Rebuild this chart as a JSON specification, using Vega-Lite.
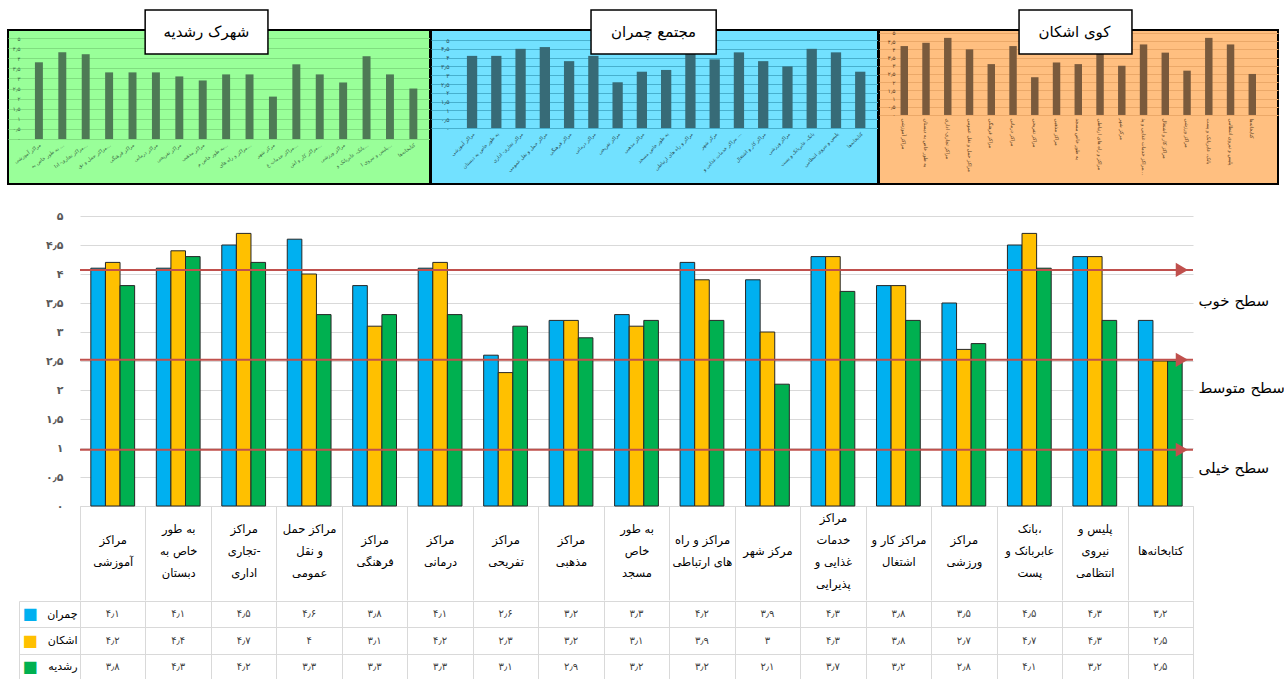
{
  "$schema": "https://vega.github.io/schema/vega-lite/v6.json",
  "padding": {"left": 7, "top": 8, "right": 0, "bottom": 0},
  "autosize": {"type": "pad"},
  "background": "#ffffff",
  "config": {
    "font": "DejaVu Sans",
    "view": {"stroke": null},
    "axis": {"labelFont": "DejaVu Sans", "titleFont": "DejaVu Sans"},
    "text": {"font": "DejaVu Sans"}
  },
  "datasets": {
    "scores": [
      {"cat": "مراکز آموزشی", "series": "چمران", "value": 4.1, "label": "۴٫۱"},
      {"cat": "مراکز آموزشی", "series": "اشکان", "value": 4.2, "label": "۴٫۲"},
      {"cat": "مراکز آموزشی", "series": "رشدیه", "value": 3.8, "label": "۳٫۸"},
      {"cat": "به طور خاص به دبستان", "series": "چمران", "value": 4.1, "label": "۴٫۱"},
      {"cat": "به طور خاص به دبستان", "series": "اشکان", "value": 4.4, "label": "۴٫۴"},
      {"cat": "به طور خاص به دبستان", "series": "رشدیه", "value": 4.3, "label": "۴٫۳"},
      {"cat": "مراکز تجاری- اداری", "series": "چمران", "value": 4.5, "label": "۴٫۵"},
      {"cat": "مراکز تجاری- اداری", "series": "اشکان", "value": 4.7, "label": "۴٫۷"},
      {"cat": "مراکز تجاری- اداری", "series": "رشدیه", "value": 4.2, "label": "۴٫۲"},
      {"cat": "مراکز حمل و نقل عمومی", "series": "چمران", "value": 4.6, "label": "۴٫۶"},
      {"cat": "مراکز حمل و نقل عمومی", "series": "اشکان", "value": 4.0, "label": "۴"},
      {"cat": "مراکز حمل و نقل عمومی", "series": "رشدیه", "value": 3.3, "label": "۳٫۳"},
      {"cat": "مراکز فرهنگی", "series": "چمران", "value": 3.8, "label": "۳٫۸"},
      {"cat": "مراکز فرهنگی", "series": "اشکان", "value": 3.1, "label": "۳٫۱"},
      {"cat": "مراکز فرهنگی", "series": "رشدیه", "value": 3.3, "label": "۳٫۳"},
      {"cat": "مراکز درمانی", "series": "چمران", "value": 4.1, "label": "۴٫۱"},
      {"cat": "مراکز درمانی", "series": "اشکان", "value": 4.2, "label": "۴٫۲"},
      {"cat": "مراکز درمانی", "series": "رشدیه", "value": 3.3, "label": "۳٫۳"},
      {"cat": "مراکز تفریحی", "series": "چمران", "value": 2.6, "label": "۲٫۶"},
      {"cat": "مراکز تفریحی", "series": "اشکان", "value": 2.3, "label": "۲٫۳"},
      {"cat": "مراکز تفریحی", "series": "رشدیه", "value": 3.1, "label": "۳٫۱"},
      {"cat": "مراکز مذهبی", "series": "چمران", "value": 3.2, "label": "۳٫۲"},
      {"cat": "مراکز مذهبی", "series": "اشکان", "value": 3.2, "label": "۳٫۲"},
      {"cat": "مراکز مذهبی", "series": "رشدیه", "value": 2.9, "label": "۲٫۹"},
      {"cat": "به طور خاص مسجد", "series": "چمران", "value": 3.3, "label": "۳٫۳"},
      {"cat": "به طور خاص مسجد", "series": "اشکان", "value": 3.1, "label": "۳٫۱"},
      {"cat": "به طور خاص مسجد", "series": "رشدیه", "value": 3.2, "label": "۳٫۲"},
      {"cat": "مراکز و راه های ارتباطی", "series": "چمران", "value": 4.2, "label": "۴٫۲"},
      {"cat": "مراکز و راه های ارتباطی", "series": "اشکان", "value": 3.9, "label": "۳٫۹"},
      {"cat": "مراکز و راه های ارتباطی", "series": "رشدیه", "value": 3.2, "label": "۳٫۲"},
      {"cat": "مرکز شهر", "series": "چمران", "value": 3.9, "label": "۳٫۹"},
      {"cat": "مرکز شهر", "series": "اشکان", "value": 3.0, "label": "۳"},
      {"cat": "مرکز شهر", "series": "رشدیه", "value": 2.1, "label": "۲٫۱"},
      {"cat": "مراکز خدمات غذایی و پذیرایی", "series": "چمران", "value": 4.3, "label": "۴٫۳"},
      {"cat": "مراکز خدمات غذایی و پذیرایی", "series": "اشکان", "value": 4.3, "label": "۴٫۳"},
      {"cat": "مراکز خدمات غذایی و پذیرایی", "series": "رشدیه", "value": 3.7, "label": "۳٫۷"},
      {"cat": "مراکز کار و اشتغال", "series": "چمران", "value": 3.8, "label": "۳٫۸"},
      {"cat": "مراکز کار و اشتغال", "series": "اشکان", "value": 3.8, "label": "۳٫۸"},
      {"cat": "مراکز کار و اشتغال", "series": "رشدیه", "value": 3.2, "label": "۳٫۲"},
      {"cat": "مراکز ورزشی", "series": "چمران", "value": 3.5, "label": "۳٫۵"},
      {"cat": "مراکز ورزشی", "series": "اشکان", "value": 2.7, "label": "۲٫۷"},
      {"cat": "مراکز ورزشی", "series": "رشدیه", "value": 2.8, "label": "۲٫۸"},
      {"cat": "بانک، عابربانک و پست", "series": "چمران", "value": 4.5, "label": "۴٫۵"},
      {"cat": "بانک، عابربانک و پست", "series": "اشکان", "value": 4.7, "label": "۴٫۷"},
      {"cat": "بانک، عابربانک و پست", "series": "رشدیه", "value": 4.1, "label": "۴٫۱"},
      {"cat": "پلیس و نیروی انتظامی", "series": "چمران", "value": 4.3, "label": "۴٫۳"},
      {"cat": "پلیس و نیروی انتظامی", "series": "اشکان", "value": 4.3, "label": "۴٫۳"},
      {"cat": "پلیس و نیروی انتظامی", "series": "رشدیه", "value": 3.2, "label": "۳٫۲"},
      {"cat": "کتابخانه‌ها", "series": "چمران", "value": 3.2, "label": "۳٫۲"},
      {"cat": "کتابخانه‌ها", "series": "اشکان", "value": 2.5, "label": "۲٫۵"},
      {"cat": "کتابخانه‌ها", "series": "رشدیه", "value": 2.5, "label": "۲٫۵"}
    ],
    "levels": [
      {"level": "سطح خوب", "v": 4.07},
      {"level": "سطح متوسط", "v": 2.52},
      {"level": "سطح خیلی", "v": 0.97}
    ]
  },
  "spacing": 25,
  "resolve": {"scale": {"x": "independent", "y": "independent", "color": "independent"}},
  "vconcat": [
    {
      "spacing": -2,
      "resolve": {"scale": {"x": "independent", "y": "independent"}},
      "hconcat": [
        {
          "width": 422,
          "height": 154,
          "view": {"fill": "#99FF99", "stroke": "#000000", "strokeWidth": 2},
          "layer": [
            {
              "data": {"name": "scores"},
              "transform": [{"filter": "datum.series === 'رشدیه'"}],
              "mark": {"type": "bar", "color": "#4E7A55"},
              "encoding": {
                "x": {"field": "cat", "type": "nominal",
                  "scale": {"domain": ["مراکز آموزشی", "به طور خاص به دبستان", "مراکز تجاری- اداری", "مراکز حمل و نقل عمومی", "مراکز فرهنگی", "مراکز درمانی", "مراکز تفریحی", "مراکز مذهبی", "به طور خاص مسجد", "مراکز و راه های ارتباطی", "مرکز شهر", "مراکز خدمات غذایی و پذیرایی", "مراکز کار و اشتغال", "مراکز ورزشی", "بانک، عابربانک و پست", "پلیس و نیروی انتظامی", "کتابخانه‌ها"], "paddingInner": 0.66, "paddingOuter": 0.846, "align": 0.68},
                  "axis": {"title": null, "orient": "bottom", "offset": -45, "minExtent": 0, "domain": false, "ticks": false, "tickSize": 0, "labelAngle": -35, "labelAlign": "right", "labelBaseline": "top", "labelFontSize": 5, "labelColor": "#3C6E47", "labelLimit": 40, "labelPadding": 3, "labelOverlap": false}},
                "y": {"field": "value", "type": "quantitative",
                  "scale": {"domain": [-2.23, 5.4], "nice": false, "zero": false},
                  "axis": {"title": null, "values": [0, 0.5, 1, 1.5, 2, 2.5, 3, 3.5, 4, 4.5, 5], "labelExpr": "datum.value == 0 ? '۰' : datum.value == 0.5 ? '۰٫۵' : datum.value == 1 ? '۱' : datum.value == 1.5 ? '۱٫۵' : datum.value == 2 ? '۲' : datum.value == 2.5 ? '۲٫۵' : datum.value == 3 ? '۳' : datum.value == 3.5 ? '۳٫۵' : datum.value == 4 ? '۴' : datum.value == 4.5 ? '۴٫۵' : '۵'", "labelOverlap": false, "offset": -20, "minExtent": 0, "labelPadding": 8, "ticks": false, "tickSize": 0, "domain": false, "grid": true, "gridColor": "#80DE80", "labelFontSize": 5.5, "labelColor": "#3C6E47"}}
              }
            },
            {
              "data": {"values": [{}]},
              "mark": {"type": "rect", "fill": "#ffffff", "stroke": "#000000", "strokeWidth": 1.5},
              "encoding": {
                "x": {"datum": 0.325, "type": "quantitative", "scale": {"domain": [0, 1]}, "axis": null},
                "x2": {"datum": 0.616},
                "y": {"datum": 6.39, "type": "quantitative", "scale": {"domain": [-2.23, 5.4], "nice": false, "zero": false}, "axis": null},
                "y2": {"datum": 4.21}
              }
            },
            {
              "data": {"values": [{}]},
              "mark": {"type": "text", "fontSize": 15, "color": "#000000"},
              "encoding": {
                "x": {"datum": 0.47, "type": "quantitative", "scale": {"domain": [0, 1]}, "axis": null},
                "y": {"datum": 5.3, "type": "quantitative", "scale": {"domain": [-2.23, 5.4], "nice": false, "zero": false}, "axis": null},
                "text": {"value": "شهرک رشدیه"}
              }
            }
          ],
          "resolve": {"scale": {"x": "independent", "y": "independent"}}
        },
        {
          "width": 447,
          "height": 154,
          "view": {"fill": "#72E1FF", "stroke": "#000000", "strokeWidth": 2},
          "layer": [
            {
              "data": {"name": "scores"},
              "transform": [{"filter": "datum.series === 'چمران'"}],
              "mark": {"type": "bar", "color": "#376B77"},
              "encoding": {
                "x": {"field": "cat", "type": "nominal",
                  "scale": {"domain": ["مراکز آموزشی", "به طور خاص به دبستان", "مراکز تجاری- اداری", "مراکز حمل و نقل عمومی", "مراکز فرهنگی", "مراکز درمانی", "مراکز تفریحی", "مراکز مذهبی", "به طور خاص مسجد", "مراکز و راه های ارتباطی", "مرکز شهر", "مراکز خدمات غذایی و پذیرایی", "مراکز کار و اشتغال", "مراکز ورزشی", "بانک، عابربانک و پست", "پلیس و نیروی انتظامی", "کتابخانه‌ها"], "paddingInner": 0.576, "paddingOuter": 1.258, "align": 0.74},
                  "axis": {"title": null, "orient": "bottom", "offset": -56, "minExtent": 0, "domain": false, "ticks": false, "tickSize": 0, "labelAngle": -45, "labelAlign": "right", "labelBaseline": "top", "labelFontSize": 5, "labelColor": "#2A4F5A", "labelLimit": 55, "labelPadding": 3, "labelOverlap": false}},
                "y": {"field": "value", "type": "quantitative",
                  "scale": {"domain": [-3.18, 5.57], "nice": false, "zero": false},
                  "axis": {"title": null, "values": [0, 0.5, 1, 1.5, 2, 2.5, 3, 3.5, 4, 4.5, 5], "labelExpr": "datum.value == 0 ? '۰' : datum.value == 0.5 ? '۰٫۵' : datum.value == 1 ? '۱' : datum.value == 1.5 ? '۱٫۵' : datum.value == 2 ? '۲' : datum.value == 2.5 ? '۲٫۵' : datum.value == 3 ? '۳' : datum.value == 3.5 ? '۳٫۵' : datum.value == 4 ? '۴' : datum.value == 4.5 ? '۴٫۵' : '۵'", "labelOverlap": false, "offset": -27, "minExtent": 0, "labelPadding": 9, "ticks": false, "tickSize": 0, "domain": false, "grid": true, "gridColor": "#47B0CE", "labelFontSize": 6, "labelColor": "#2A4F5A"}}
              }
            },
            {
              "data": {"values": [{}]},
              "mark": {"type": "rect", "fill": "#ffffff", "stroke": "#000000", "strokeWidth": 1.5},
              "encoding": {
                "x": {"datum": 0.358, "type": "quantitative", "scale": {"domain": [0, 1]}, "axis": null},
                "x2": {"datum": 0.638},
                "y": {"datum": 6.71, "type": "quantitative", "scale": {"domain": [-3.18, 5.57], "nice": false, "zero": false}, "axis": null},
                "y2": {"datum": 4.21}
              }
            },
            {
              "data": {"values": [{}]},
              "mark": {"type": "text", "fontSize": 15, "color": "#000000"},
              "encoding": {
                "x": {"datum": 0.498, "type": "quantitative", "scale": {"domain": [0, 1]}, "axis": null},
                "y": {"datum": 5.46, "type": "quantitative", "scale": {"domain": [-3.18, 5.57], "nice": false, "zero": false}, "axis": null},
                "text": {"value": "مجتمع چمران"}
              }
            }
          ],
          "resolve": {"scale": {"x": "independent", "y": "independent"}}
        },
        {
          "width": 399,
          "height": 154,
          "view": {"fill": "#FFBF80", "stroke": "#000000", "strokeWidth": 2},
          "layer": [
            {
              "data": {"name": "scores"},
              "transform": [{"filter": "datum.series === 'اشکان'"}],
              "mark": {"type": "bar", "color": "#7A5A3C"},
              "encoding": {
                "x": {"field": "cat", "type": "nominal",
                  "scale": {"domain": ["مراکز آموزشی", "به طور خاص به دبستان", "مراکز تجاری- اداری", "مراکز حمل و نقل عمومی", "مراکز فرهنگی", "مراکز درمانی", "مراکز تفریحی", "مراکز مذهبی", "به طور خاص مسجد", "مراکز و راه های ارتباطی", "مرکز شهر", "مراکز خدمات غذایی و پذیرایی", "مراکز کار و اشتغال", "مراکز ورزشی", "بانک، عابربانک و پست", "پلیس و نیروی انتظامی", "کتابخانه‌ها"], "paddingInner": 0.657, "paddingOuter": 1.61, "align": 0.495},
                  "axis": {"title": null, "orient": "bottom", "offset": -69, "minExtent": 0, "domain": false, "ticks": false, "tickSize": 0, "labelAngle": 90, "labelAlign": "left", "labelBaseline": "middle", "labelFontSize": 5, "labelColor": "#5C3D1E", "labelLimit": 60, "labelPadding": 3, "labelOverlap": false}},
                "y": {"field": "value", "type": "quantitative",
                  "scale": {"domain": [-4.21, 5.18], "nice": false, "zero": false},
                  "axis": {"title": null, "values": [0, 0.5, 1, 1.5, 2, 2.5, 3, 3.5, 4, 4.5, 5], "labelExpr": "datum.value == 0 ? '۰' : datum.value == 0.5 ? '۰٫۵' : datum.value == 1 ? '۱' : datum.value == 1.5 ? '۱٫۵' : datum.value == 2 ? '۲' : datum.value == 2.5 ? '۲٫۵' : datum.value == 3 ? '۳' : datum.value == 3.5 ? '۳٫۵' : datum.value == 4 ? '۴' : datum.value == 4.5 ? '۴٫۵' : '۵'", "labelOverlap": false, "offset": -30, "minExtent": 0, "labelPadding": 14, "ticks": false, "tickSize": 0, "domain": false, "grid": true, "gridColor": "#EBA868", "labelFontSize": 5.5, "labelColor": "#5C3D1E"}}
              }
            },
            {
              "data": {"values": [{}]},
              "mark": {"type": "rect", "fill": "#ffffff", "stroke": "#000000", "strokeWidth": 1.5},
              "encoding": {
                "x": {"datum": 0.351, "type": "quantitative", "scale": {"domain": [0, 1]}, "axis": null},
                "x2": {"datum": 0.634},
                "y": {"datum": 6.4, "type": "quantitative", "scale": {"domain": [-4.21, 5.18], "nice": false, "zero": false}, "axis": null},
                "y2": {"datum": 3.72}
              }
            },
            {
              "data": {"values": [{}]},
              "mark": {"type": "text", "fontSize": 15, "color": "#000000"},
              "encoding": {
                "x": {"datum": 0.49, "type": "quantitative", "scale": {"domain": [0, 1]}, "axis": null},
                "y": {"datum": 5.06, "type": "quantitative", "scale": {"domain": [-4.21, 5.18], "nice": false, "zero": false}, "axis": null},
                "text": {"value": "کوی اشکان"}
              }
            }
          ],
          "resolve": {"scale": {"x": "independent", "y": "independent"}}
        }
      ]
    },
    {
      "spacing": -2,
      "resolve": {"scale": {"x": "independent", "y": "independent", "color": "independent"}},
      "hconcat": [
        {
          "width": 1,
          "height": 1,
          "data": {"values": []},
          "mark": {"type": "point"}
        },
        {
          "spacing": -8,
          "resolve": {"scale": {"x": "independent", "y": "independent", "color": "independent"}},
          "vconcat": [
            {
              "width": 1113,
              "height": 290,
              "layer": [
                {
                  "data": {"name": "scores"},
                  "mark": {"type": "bar", "stroke": "#262626", "strokeWidth": 1},
                  "encoding": {
                    "x": {"field": "cat", "type": "nominal",
                      "scale": {"domain": ["مراکز آموزشی", "به طور خاص به دبستان", "مراکز تجاری- اداری", "مراکز حمل و نقل عمومی", "مراکز فرهنگی", "مراکز درمانی", "مراکز تفریحی", "مراکز مذهبی", "به طور خاص مسجد", "مراکز و راه های ارتباطی", "مرکز شهر", "مراکز خدمات غذایی و پذیرایی", "مراکز کار و اشتغال", "مراکز ورزشی", "بانک، عابربانک و پست", "پلیس و نیروی انتظامی", "کتابخانه‌ها"], "paddingInner": 0, "paddingOuter": 0},
                      "axis": {"title": null, "orient": "bottom", "minExtent": 0, "domain": true, "domainColor": "#D9D9D9", "ticks": true, "tickBand": "extent", "tickSize": 94, "tickColor": "#D9D9D9", "grid": false, "labelAngle": 0, "labelAlign": "center", "labelBaseline": "middle", "labelFontSize": 11.5, "labelLineHeight": 22, "labelColor": "#000000", "labelLimit": 200, "labelOverlap": false,
                        "labelPadding": {"condition": [
                          {"test": "datum.label == 'مراکز خدمات غذایی و پذیرایی'", "value": -81.5},
                          {"test": "indexof(['به طور خاص به دبستان', 'مراکز تجاری- اداری', 'مراکز حمل و نقل عمومی', 'به طور خاص مسجد', 'بانک، عابربانک و پست', 'پلیس و نیروی انتظامی'], datum.label) >= 0", "value": -70.5},
                          {"test": "indexof(['مرکز شهر', 'کتابخانه‌ها'], datum.label) >= 0", "value": -48.5}
                        ], "value": -59.5},
                        "labelExpr": "datum.label == 'مراکز آموزشی' ? ['مراکز', 'آموزشی'] : datum.label == 'به طور خاص به دبستان' ? ['به طور', 'خاص به', 'دبستان'] : datum.label == 'مراکز تجاری- اداری' ? ['مراکز', 'تجاری-', 'اداری'] : datum.label == 'مراکز حمل و نقل عمومی' ? ['مراکز حمل', 'و نقل', 'عمومی'] : datum.label == 'مراکز فرهنگی' ? ['مراکز', 'فرهنگی'] : datum.label == 'مراکز درمانی' ? ['مراکز', 'درمانی'] : datum.label == 'مراکز تفریحی' ? ['مراکز', 'تفریحی'] : datum.label == 'مراکز مذهبی' ? ['مراکز', 'مذهبی'] : datum.label == 'به طور خاص مسجد' ? ['به طور', 'خاص', 'مسجد'] : datum.label == 'مراکز و راه های ارتباطی' ? ['مراکز و راه', 'های ارتباطی'] : datum.label == 'مراکز خدمات غذایی و پذیرایی' ? ['مراکز', 'خدمات', 'غذایی و', 'پذیرایی'] : datum.label == 'مراکز کار و اشتغال' ? ['مراکز کار و', 'اشتغال'] : datum.label == 'مراکز ورزشی' ? ['مراکز', 'ورزشی'] : datum.label == 'بانک، عابربانک و پست' ? ['بانک،', 'عابربانک و', 'پست'] : datum.label == 'پلیس و نیروی انتظامی' ? ['پلیس و', 'نیروی', 'انتظامی'] : datum.label"}},
                    "xOffset": {"field": "series", "type": "nominal", "scale": {"domain": ["چمران", "اشکان", "رشدیه"], "paddingInner": 0, "paddingOuter": 0.743}},
                    "y": {"field": "value", "type": "quantitative",
                      "scale": {"domain": [0, 5], "nice": false},
                      "axis": {"title": null, "orient": "left", "minExtent": 72, "values": [0, 0.5, 1, 1.5, 2, 2.5, 3, 3.5, 4, 4.5, 5], "labelExpr": "datum.value == 0 ? '۰' : datum.value == 0.5 ? '۰٫۵' : datum.value == 1 ? '۱' : datum.value == 1.5 ? '۱٫۵' : datum.value == 2 ? '۲' : datum.value == 2.5 ? '۲٫۵' : datum.value == 3 ? '۳' : datum.value == 3.5 ? '۳٫۵' : datum.value == 4 ? '۴' : datum.value == 4.5 ? '۴٫۵' : '۵'", "labelPadding": 17, "ticks": false, "tickSize": 0, "domain": false, "grid": true, "gridColor": "#D9D9D9", "labelFontSize": 11, "labelFontWeight": "bold", "labelColor": "#595959"}},
                    "color": {"field": "series", "type": "nominal", "scale": {"domain": ["چمران", "اشکان", "رشدیه"], "range": ["#00B0F0", "#FFC000", "#00B050"]}, "legend": null}
                  }
                },
                {
                  "data": {"name": "levels"},
                  "mark": {"type": "rule", "color": "#C0504D", "strokeWidth": 2},
                  "encoding": {
                    "y": {"field": "v", "type": "quantitative",
                      "axis": {"title": null, "orient": "right", "minExtent": 0, "values": [3.55, 2.05, 0.66], "labelExpr": "datum.value == 3.55 ? 'سطح خوب' : datum.value == 2.05 ? 'سطح متوسط' : 'سطح خیلی'", "labelPadding": 5, "ticks": false, "tickSize": 0, "domain": false, "grid": false, "labelFontSize": 15, "labelColor": "#000000", "labelAlign": "left", "labelLimit": 200}}
                  }
                },
                {
                  "data": {"name": "levels"},
                  "mark": {"type": "point", "shape": "triangle-right", "filled": true, "color": "#C0504D", "size": 200, "opacity": 1},
                  "encoding": {
                    "x": {"datum": "کتابخانه‌ها", "bandPosition": 0.83},
                    "y": {"field": "v", "type": "quantitative", "axis": null}
                  }
                }
              ],
              "resolve": {"axis": {"y": "independent"}}
            },
            {
              "width": 1113,
              "height": 79,
              "view": {"stroke": "#D9D9D9"},
              "data": {"name": "scores"},
              "encoding": {
                "x": {"field": "cat", "type": "nominal",
                  "scale": {"domain": ["مراکز آموزشی", "به طور خاص به دبستان", "مراکز تجاری- اداری", "مراکز حمل و نقل عمومی", "مراکز فرهنگی", "مراکز درمانی", "مراکز تفریحی", "مراکز مذهبی", "به طور خاص مسجد", "مراکز و راه های ارتباطی", "مرکز شهر", "مراکز خدمات غذایی و پذیرایی", "مراکز کار و اشتغال", "مراکز ورزشی", "بانک، عابربانک و پست", "پلیس و نیروی انتظامی", "کتابخانه‌ها"], "paddingInner": 0, "paddingOuter": 0},
                  "axis": {"title": null, "orient": "top", "minExtent": 0, "labels": false, "ticks": false, "tickSize": 0, "domain": false, "grid": true, "tickBand": "extent", "gridColor": "#D9D9D9"}}
              },
              "layer": [
                {
                  "mark": {"type": "text", "fontSize": 10, "color": "#404040"},
                  "encoding": {
                    "text": {"field": "label"},
                    "y": {"field": "series", "type": "nominal",
                      "scale": {"domain": ["چمران", "اشکان", "رشدیه"], "paddingInner": 0, "paddingOuter": 0},
                      "axis": {"title": null, "orient": "left", "offset": 0, "minExtent": 0, "domain": true, "domainColor": "#D9D9D9", "ticks": true, "tickBand": "extent", "tickSize": 61, "tickColor": "#D9D9D9", "labelPadding": -58, "labelFontSize": 11, "labelColor": "#000000", "grid": true, "gridColor": "#D9D9D9"}}
                  }
                },
                {
                  "mark": {"type": "text", "fontSize": 10, "opacity": 0},
                  "encoding": {
                    "text": {"field": "label"},
                    "y": {"field": "series", "type": "nominal",
                      "axis": {"title": null, "orient": "left", "offset": 61, "minExtent": 11, "domain": true, "domainColor": "#D9D9D9", "ticks": false, "tickSize": 0, "labelPadding": -18, "labelExpr": "'■'", "labelFontSize": 16, "grid": false,
                        "labelColor": {"condition": [{"test": "datum.value === 'چمران'", "value": "#00B0F0"}, {"test": "datum.value === 'اشکان'", "value": "#FFC000"}], "value": "#00B050"}}}
                  }
                }
              ],
              "resolve": {"axis": {"y": "independent"}}
            }
          ]
        }
      ]
    }
  ]
}
